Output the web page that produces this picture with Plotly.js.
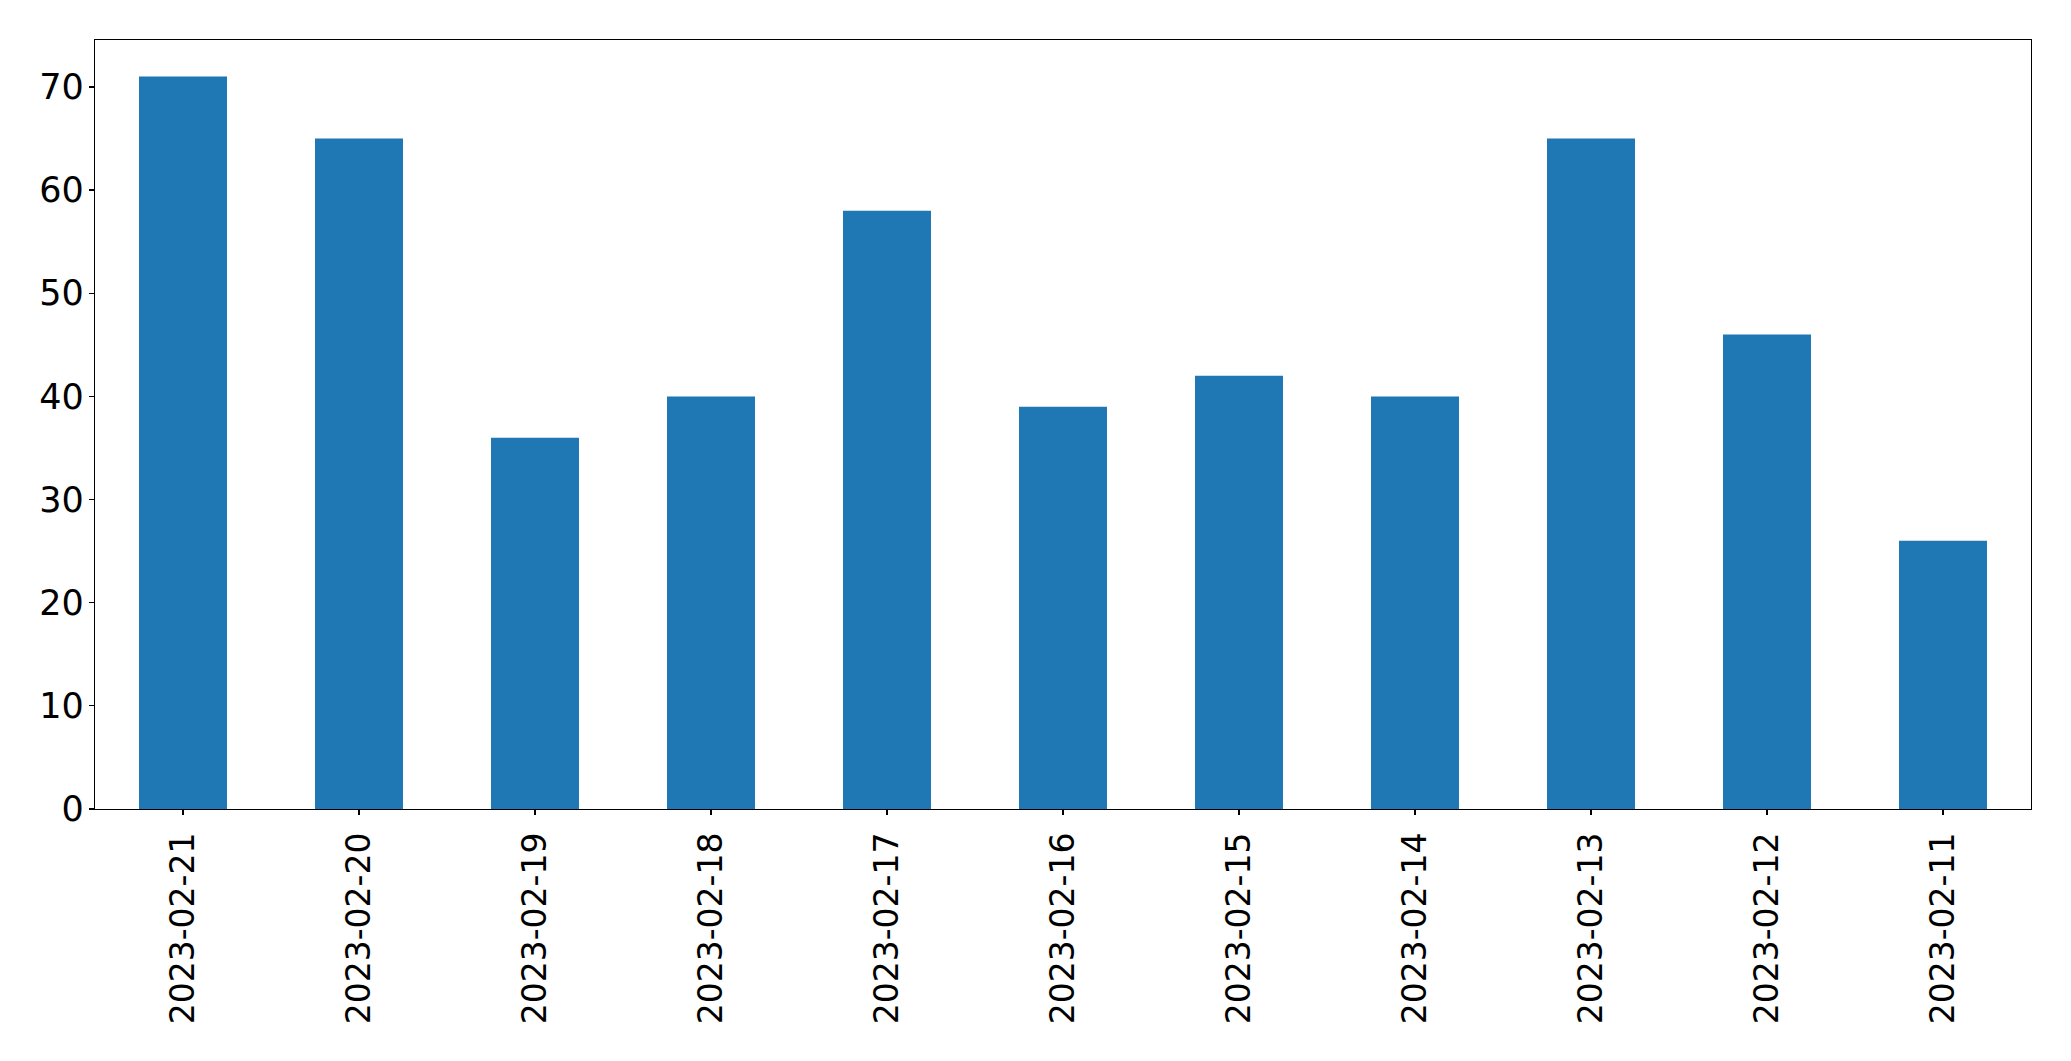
<!DOCTYPE html>
<html>
<head>
<meta charset="utf-8">
<script src="https://cdn.plot.ly/plotly-3.0.1.min.js"></script>
<style>html,body{margin:0;padding:0;background:#fff;}#chart{width:2071px;height:1061px;}</style>
</head>
<body>
<div id="chart"></div>
<script>
const dates = ["2023-02-21","2023-02-20","2023-02-19","2023-02-18","2023-02-17","2023-02-16","2023-02-15","2023-02-14","2023-02-13","2023-02-12","2023-02-11"];
const counts = [71, 65, 36, 40, 58, 39, 42, 40, 65, 46, 26];
const yTicks = [0, 10, 20, 30, 40, 50, 60, 70];

const trace = {
  type: 'bar',
  x: dates,
  y: counts,
  width: 0.5,
  marker: {color: '#1f77b4', line: {width: 0}},
  hoverinfo: 'x+y'
};

const layout = {
  width: 2071,
  height: 1061,
  margin: {l: 94.5, r: 39.5, t: 39.5, b: 252, pad: 0},
  paper_bgcolor: '#ffffff',
  plot_bgcolor: '#ffffff',
  font: {family: 'DejaVu Sans, sans-serif', color: '#000000', size: 33},
  showlegend: false,
  bargap: 0.5,
  xaxis: {
    type: 'category',
    range: [-0.5, 10.5],
    tickangle: -90,
    ticks: 'outside',
    ticklen: 5,
    tickwidth: 1.3,
    tickcolor: '#000',
    showline: true,
    linecolor: '#000',
    linewidth: 1.3,
    mirror: true,
    showgrid: false,
    zeroline: false,
    tickfont: {family: 'DejaVu Sans, sans-serif', size: 33, color: '#000'},
    ticklabelstandoff: 4
  },
  yaxis: {
    range: [0, 74.55],
    tickmode: 'array',
    tickvals: yTicks,
    ticktext: yTicks.map(String),
    ticks: 'outside',
    ticklen: 5,
    tickwidth: 1.3,
    tickcolor: '#000',
    showline: true,
    linecolor: '#000',
    linewidth: 1.3,
    mirror: true,
    showgrid: false,
    zeroline: false,
    tickfont: {family: 'DejaVu Sans, sans-serif', size: 35, color: '#000'},
    ticklabelstandoff: -2
  }
};

Plotly.newPlot('chart', [trace], layout, {displayModeBar: false, staticPlot: true});
</script>
</body>
</html>
